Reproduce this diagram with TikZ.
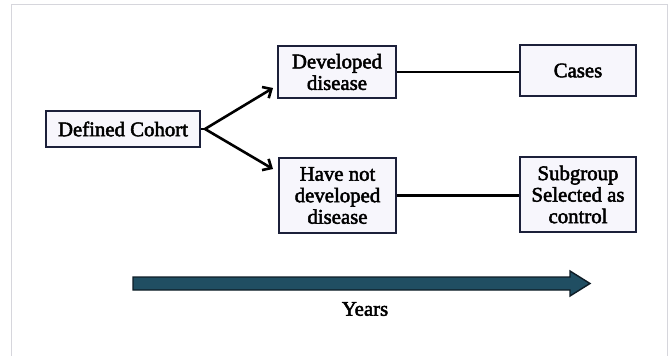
\documentclass[tikz,border=0pt]{standalone}
\usepackage{fontspec}
\setmainfont{Liberation Serif}[FakeBold=2.4]
\usetikzlibrary{arrows.meta}
\definecolor{boxline}{RGB}{28,32,58}
\definecolor{boxfill}{RGB}{247,246,252}
\definecolor{timefill}{RGB}{32,78,98}
\definecolor{timeline}{RGB}{14,28,38}
\definecolor{framegray}{RGB}{214,214,220}
\tikzset{
  stagebox/.style={draw=boxline, fill=boxfill, line width=2.4pt, align=center,
    font=\fontsize{20.8}{21.5}\selectfont, inner sep=0pt},
  link/.style={draw=black, line width=2.6pt},
  branch/.style={draw=black, line width=2.6pt, -{Straight Barb[length=7pt,width=13pt,line width=2.6pt]}},
  label/.style={font=\fontsize{20.8}{21.5}\selectfont}
}
\begin{document}
\begin{tikzpicture}[x=1pt,y=-1pt]
  \useasboundingbox (0,0) rectangle (672,356);
  % page frame, open at the bottom
  \draw[framegray, line width=0.8pt] (11,356) -- (11,4) -- (667,4) -- (667,356);

  % stages
  \node[stagebox, minimum width=154pt, minimum height=36pt] (cohort) at (123,129) {Defined Cohort};
  \node[stagebox, minimum width=118pt, minimum height=52pt] (dev) at (337,72) {Developed\\disease};
  \node[stagebox, minimum width=116pt, minimum height=51pt] (cases) at (578,70.5) {Cases};
  \node[stagebox, minimum width=117pt, minimum height=75pt] (nodev) at (337.5,195.5) {Have not\\developed\\disease};
  \node[stagebox, minimum width=116pt, minimum height=75pt] (ctrl) at (578,194.5) {Subgroup\\Selected as\\control};

  % fork from the cohort to the two outcomes
  \coordinate (fork) at (205,129);
  \coordinate (uptip) at (273,88);
  \coordinate (downtip) at (273,169);
  \draw[link] (cohort.east) -- (fork);
  \draw[branch] (fork) -- (uptip);
  \draw[branch] (fork) -- (downtip);

  % outcome to study group
  \draw[link] (dev.east) -- (cases.west |- dev.east);
  \draw[link] (nodev.east) -- (ctrl.west |- nodev.east);

  % time axis
  \draw[timeline, fill=timefill, line width=1.4pt, line join=miter]
    (133,277) -- (570,277) -- (570,271) -- (590,283.5) -- (570,296) -- (570,290) -- (133,290) -- cycle;
  \node[label] (years) at (365,309) {Years};
\end{tikzpicture}
\end{document}
